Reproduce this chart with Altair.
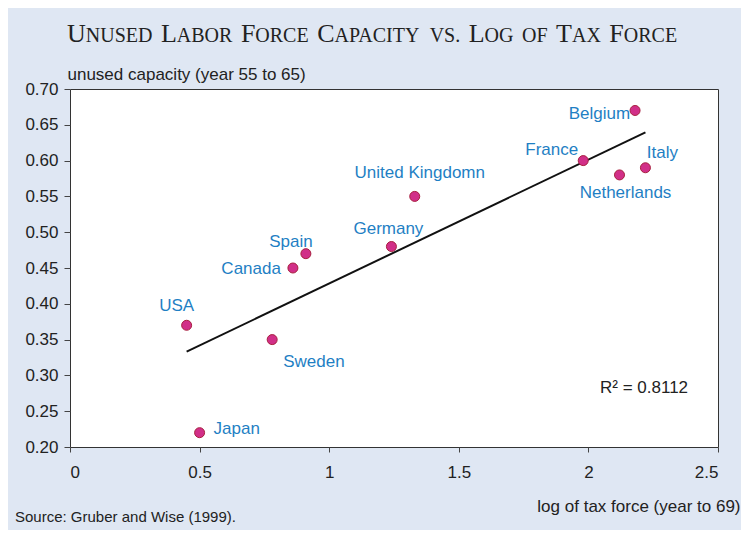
import altair as alt
import pandas as pd

countries = ["USA", "Japan", "Sweden", "Canada", "Spain", "Germany",
             "United Kingdomn", "France", "Netherlands", "Italy", "Belgium"]
tax_force = [0.45, 0.50, 0.78, 0.86, 0.91, 1.24, 1.33, 1.98, 2.12, 2.22, 2.18]
unused_capacity = [0.37, 0.22, 0.35, 0.45, 0.47, 0.48, 0.55, 0.60, 0.58, 0.59, 0.67]

x_ticks = [0, 0.5, 1, 1.5, 2, 2.5]
y_ticks = [0.20, 0.25, 0.30, 0.35, 0.40, 0.45, 0.50, 0.55, 0.60, 0.65, 0.70]

# Title written in small caps: (big initial, small-caps remainder) per word
title_words = [("U", "NUSED"), ("L", "ABOR"), ("F", "ORCE"), ("C", "APACITY"),
               ("", "VS."), ("L", "OG"), ("", "OF"), ("T", "AX"), ("F", "ORCE")]

df = pd.DataFrame({"country": countries, "x": tax_force, "y": unused_capacity})

# ---- layout / style only ----
label_place = {
    "USA": ("center", -10, -19),
    "Japan": ("left", 14, -4),
    "Sweden": ("left", 11, 22),
    "Canada": ("right", -12, 1),
    "Spain": ("center", -15, -12),
    "Germany": ("center", -3, -18),
    "United Kingdomn": ("center", 5, -23),
    "France": ("right", -5, -11),
    "Netherlands": ("center", 6, 18),
    "Italy": ("center", 17, -15),
    "Belgium": ("right", -5, 4),
}
title_x0 = -3       # px from plot left
title_gap = 8.5
title_y = -47
BIG, SMALL = 26, 20
# Times / Liberation Serif advance widths (per 1000 em) for text layout
serif_w = {"A": 722, "B": 667, "C": 667, "D": 722, "E": 611, "F": 556, "G": 722,
           "I": 333, "L": 611, "N": 722, "O": 722, "P": 556, "R": 667, "S": 556,
           "T": 611, "U": 722, "V": 722, "X": 722, "Y": 722, ".": 250}

FONT = "Liberation Sans"
SERIF = "Liberation Serif"
BG = "#dfe7f3"
LABEL_BLUE = "#1f7fc4"
TXT = "#222"

xs = alt.X("x:Q", scale=alt.Scale(domain=[0, 2.5], nice=False),
           axis=alt.Axis(values=x_ticks, format="~g", grid=False, domain=False,
                         tickSize=5, tickColor="#444", labelPadding=12,
                         labelFontSize=17, labelColor=TXT, labelFont=FONT,
                         title="log of tax force (year to 69)", titleFont=FONT,
                         titleFontSize=17, titleFontWeight="normal", titleColor=TXT,
                         titleX=670, titleY=64, titleAlign="right",
                         titleBaseline="alphabetic", titleAnchor="end"))
ys = alt.Y("y:Q", scale=alt.Scale(domain=[0.2, 0.7], nice=False, zero=False),
           axis=alt.Axis(values=y_ticks, format=".2f", grid=False, domain=False,
                         tickSize=6, tickColor="#444", labelPadding=6,
                         labelFontSize=17, labelColor=TXT, labelFont=FONT,
                         title="unused capacity (year 55 to 65)", titleFont=FONT,
                         titleFontSize=17, titleFontWeight="normal", titleColor=TXT,
                         titleAngle=0, titleX=-3, titleY=-10, titleAlign="left",
                         titleBaseline="alphabetic"))

base = alt.Chart(df)

trend = base.transform_regression("x", "y").mark_line(
    color="#111", strokeWidth=2).encode(x=xs, y=ys)

points = base.mark_point(filled=True, size=100, fill="#d12f88",
                         stroke="#a8203f", strokeWidth=1, opacity=1).encode(x=xs, y=ys)

label_layers = []
for c in countries:
    al, dx, dy = label_place[c]
    label_layers.append(
        base.transform_filter(alt.datum.country == c).mark_text(
            align=al, baseline="middle", dx=dx, dy=dy, font=FONT,
            fontSize=17, color=LABEL_BLUE).encode(x=xs, y=ys, text="country:N")
    )

r2 = alt.Chart(pd.DataFrame({"t": ["R\u00b2 = 0.8112"]})).mark_text(
    align="left", baseline="middle", font=FONT, fontSize=17, color=TXT
).encode(x=alt.value(530), y=alt.value(299), text="t:N")

source = alt.Chart(pd.DataFrame({"t": ["Source: Gruber and Wise (1999)."]})).mark_text(
    align="left", baseline="alphabetic", font=FONT, fontSize=15, color=TXT
).encode(x=alt.value(-55), y=alt.value(433), text="t:N")

title_layers = []
wx = title_x0
for big, small in title_words:
    off = 0.0
    if big:
        title_layers.append(
            alt.Chart(pd.DataFrame({"t": [big]})).mark_text(
                align="left", baseline="alphabetic", font=SERIF, fontSize=BIG,
                color=TXT).encode(x=alt.value(wx), y=alt.value(title_y), text="t:N"))
        off = serif_w[big] * BIG / 1000.0
    title_layers.append(
        alt.Chart(pd.DataFrame({"t": [small]})).mark_text(
            align="left", baseline="alphabetic", font=SERIF, fontSize=SMALL,
            color=TXT).encode(x=alt.value(wx + off), y=alt.value(title_y), text="t:N"))
    small_w = sum(serif_w[ch] for ch in small) * SMALL / 1000.0
    wx = wx + off + small_w + title_gap

chart = alt.layer(trend, points, *label_layers, r2, source, *title_layers).properties(
    width=648, height=358,
    autosize=alt.AutoSizeParams(type="none"),
    padding={"left": 62, "top": 81, "right": 23, "bottom": 83},
    background=BG,
).configure_view(stroke="#333", strokeWidth=1, fill="white")

chart.save("out.html", embed_options={"renderer": "svg", "actions": False})
